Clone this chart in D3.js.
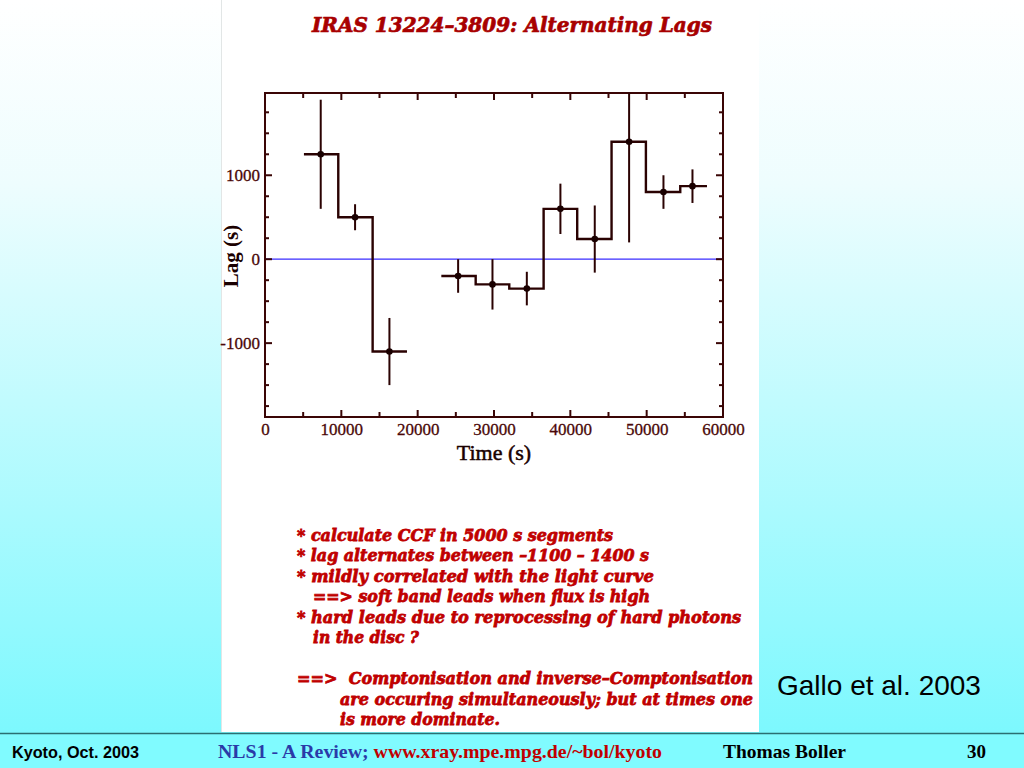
<!DOCTYPE html>
<html>
<head>
<meta charset="utf-8">
<script src="https://cdn.jsdelivr.net/npm/d3@7"></script>
<style>
  html, body { margin: 0; padding: 0; overflow: hidden; }
  svg { display: block; }
</style>
</head>
<body>
<svg id="chart" width="1024" height="768"></svg>
<script>
// ---------------- data ----------------
const binStart = [5100, 9600, 14100, 23100, 27600, 32000, 36500, 40900, 45400, 49900, 54400];
const binEnd   = [9600, 14100, 18600, 27600, 32000, 36500, 40900, 45400, 49900, 54400, 57900];
const timeMid  = [7300, 11800, 16300, 25300, 29800, 34300, 38700, 43200, 47700, 52200, 56000];
const lagValue = [1250, 500, -1100, -200, -300, -350, 600, 240, 1400, 800, 870];
const lagError = [650, 155, 400, 200, 300, 200, 300, 400, 1200, 200, 200];
const xTicks = [0, 10000, 20000, 30000, 40000, 50000, 60000];
const yTicks = [-1000, 0, 1000];

const titleText = "IRAS 13224\u20133809: Alternating Lags";
const noteLines = [
  "* calculate CCF in 5000 s segments",
  "* lag alternates between \u20131100 \u2013 1400 s",
  "* mildly correlated with the light curve",
  "==> soft band leads when flux is high",
  "* hard leads due to reprocessing of hard photons",
  "in the disc ?",
  "==>  Comptonisation and inverse\u2013Comptonisation",
  "are occuring simultaneously; but at times one",
  "is more dominate."
];

// ---------------- layout ----------------
const svg = d3.select("#chart");
const W = 1024, H = 768;

const defs = svg.append("defs");
const grad = defs.append("linearGradient").attr("id", "bg").attr("x1", 0).attr("y1", 0).attr("x2", 0).attr("y2", 1);
grad.append("stop").attr("offset", "0%").attr("stop-color", "#ffffff");
grad.append("stop").attr("offset", "25%").attr("stop-color", "#eefdfe");
grad.append("stop").attr("offset", "100%").attr("stop-color", "#7cf8fe");

svg.append("rect").attr("width", W).attr("height", 734).attr("fill", "url(#bg)");
svg.append("rect").attr("y", 734).attr("width", W).attr("height", H - 734).attr("fill", "#80fbff");
svg.append("line").attr("x1", 0).attr("x2", W).attr("y1", 733.5).attr("y2", 733.5)
  .attr("stroke", "#2b6f72").attr("stroke-width", 1.5);

// white panel
svg.append("rect").attr("x", 221).attr("y", 0).attr("width", 538).attr("height", 732).attr("fill", "#ffffff");
svg.append("line").attr("x1", 221.5).attr("x2", 221.5).attr("y1", 0).attr("y2", 732)
  .attr("stroke", "#e2e6e6").attr("stroke-width", 1);

// title
svg.append("text").attr("x", 312).attr("y", 32)
  .attr("textLength", 400).attr("lengthAdjust", "spacingAndGlyphs")
  .style("font-family", "'DejaVu Serif', serif").style("font-weight", "bold").style("font-style", "italic")
  .style("font-size", "21px").attr("fill", "#a80000")
  .attr("stroke", "#a80000").attr("stroke-width", 0.7).text(titleText);

// ---------------- plot ----------------
const x = d3.scaleLinear().domain([0, 60000]).range([265, 723]);
const y = d3.scaleLinear().domain([-1880, 1980]).range([417, 93]);
const frameColor = "#3a0505";
const labelColor = "#4a0808";

const g = svg.append("g");

// zero line
g.append("line").attr("x1", x(0)).attr("x2", x(60000)).attr("y1", y(0)).attr("y2", y(0))
  .attr("stroke", "#3a2cff").attr("stroke-width", 1.2);

// ticks (inward) on all sides
const xMajor = d3.range(0, 60001, 10000);
const xMinor = d3.range(5000, 60000, 10000);
const yMajor = d3.range(-1000, 1001, 1000);
const yMinor = d3.range(-1750, 1751, 250).filter(v => v % 1000 !== 0);
const tk = g.append("g").attr("stroke", frameColor).attr("stroke-width", 2);
function xTick(v, len) {
  tk.append("line").attr("x1", x(v)).attr("x2", x(v)).attr("y1", 417).attr("y2", 417 - len);
  tk.append("line").attr("x1", x(v)).attr("x2", x(v)).attr("y1", 93).attr("y2", 93 + len);
}
function yTick(v, len) {
  tk.append("line").attr("x1", 265).attr("x2", 265 + len).attr("y1", y(v)).attr("y2", y(v));
  tk.append("line").attr("x1", 723).attr("x2", 723 - len).attr("y1", y(v)).attr("y2", y(v));
}
xMajor.forEach(v => xTick(v, 7));
xMinor.forEach(v => xTick(v, 5));
yMajor.forEach(v => yTick(v, 7));
yMinor.forEach(v => yTick(v, 4));

// frame
g.append("rect").attr("x", 265).attr("y", 93).attr("width", 458).attr("height", 324)
  .attr("fill", "none").attr("stroke", frameColor).attr("stroke-width", 2);

// tick labels via axes (tick lines hidden)
const xAxis = g.append("g").attr("transform", "translate(0,417)")
  .call(d3.axisBottom(x).tickValues(xTicks).tickSize(0).tickPadding(6).tickFormat(d3.format("d")));
const yAxis = g.append("g").attr("transform", "translate(265,0)")
  .call(d3.axisLeft(y).tickValues(yTicks).tickSize(0).tickPadding(5).tickFormat(d => d < 0 ? "-" + Math.abs(d) : d));
[xAxis, yAxis].forEach(a => {
  a.select(".domain").remove();
  a.selectAll("text").attr("fill", labelColor)
    .attr("stroke", labelColor).attr("stroke-width", 0.3)
    .style("font-family", "'Liberation Serif', 'Times New Roman', serif").style("font-size", "17px");
});

// axis titles
g.append("text").attr("x", 494).attr("y", 460).attr("text-anchor", "middle")
  .style("font-family", "'Liberation Serif', serif").style("font-size", "22px")
  .attr("fill", "#1a0000").attr("stroke", "#1a0000").attr("stroke-width", 0.5).text("Time (s)");
g.append("text").attr("transform", "translate(238,256) rotate(-90)").attr("text-anchor", "middle")
  .style("font-family", "'Liberation Serif', serif").style("font-weight", "bold").style("font-size", "21px")
  .attr("fill", "#1a0000").text("Lag (s)");

// step histogram
const stepPath = d3.path();
for (let i = 0; i < lagValue.length; i++) {
  const contiguous = i > 0 && Math.abs(binStart[i] - binEnd[i - 1]) < 1;
  if (contiguous) stepPath.lineTo(x(binStart[i]), y(lagValue[i]));
  else stepPath.moveTo(x(binStart[i]), y(lagValue[i]));
  stepPath.lineTo(x(binEnd[i]), y(lagValue[i]));
}
g.append("path").attr("d", stepPath.toString()).attr("fill", "none")
  .attr("stroke", "#2a0202").attr("stroke-width", 2.4).attr("stroke-linejoin", "miter");

// error bars
const yMax = y.domain()[1];
g.append("g").selectAll("line").data(lagValue).join("line")
  .attr("x1", (d, i) => x(timeMid[i])).attr("x2", (d, i) => x(timeMid[i]))
  .attr("y1", (d, i) => y(Math.min(d + lagError[i], yMax)))
  .attr("y2", (d, i) => y(d - lagError[i]))
  .attr("stroke", "#2a0202").attr("stroke-width", 2);

// points
g.append("g").selectAll("circle").data(lagValue).join("circle")
  .attr("cx", (d, i) => x(timeMid[i])).attr("cy", d => y(d)).attr("r", 3.3)
  .attr("fill", "#1a0000");

// ---------------- notes ----------------
const noteX    = [297, 297, 297, 313, 297, 313, 297, 340, 340];
const noteY    = [541, 561, 582, 602, 623, 643, 684, 705, 725];
const noteLen  = [316, 352, 357, 337, 444, 106, 456, 413, 160];
svg.append("g").selectAll("text").data(noteLines).join("text")
  .attr("x", (d, i) => noteX[i]).attr("y", (d, i) => noteY[i])
  .attr("textLength", (d, i) => noteLen[i]).attr("lengthAdjust", "spacingAndGlyphs")
  .style("font-family", "'DejaVu Serif', serif").style("font-weight", "bold").style("font-style", "italic")
  .style("font-size", "17px").attr("fill", "#c00000")
  .attr("stroke", "#c00000").attr("stroke-width", 0.8)
  .style("white-space", "pre").attr("xml:space", "preserve")
  .text(d => d);

// reference
svg.append("text").attr("x", 777).attr("y", 695)
  .style("font-family", "'Liberation Sans', Arial, sans-serif").style("font-size", "28px")
  .attr("fill", "#000").text("Gallo et al. 2003");

// ---------------- footer ----------------
svg.append("text").attr("x", 12).attr("y", 758)
  .attr("textLength", 127).attr("lengthAdjust", "spacingAndGlyphs")
  .style("font-family", "'Liberation Sans Narrow', 'Liberation Sans', Arial, sans-serif").style("font-weight", "bold")
  .style("font-size", "16px").attr("fill", "#000").text("Kyoto, Oct. 2003");
const mid = svg.append("text").attr("x", 218).attr("y", 758)
  .attr("textLength", 444).attr("lengthAdjust", "spacingAndGlyphs")
  .style("font-family", "'Liberation Serif', serif").style("font-weight", "bold").style("font-size", "19px");
mid.append("tspan").attr("fill", "#2a3aa8").text("NLS1 - A Review; ");
mid.append("tspan").attr("fill", "#c00000").text("www.xray.mpe.mpg.de/~bol/kyoto");
svg.append("text").attr("x", 723).attr("y", 758)
  .attr("textLength", 123).attr("lengthAdjust", "spacingAndGlyphs")
  .style("font-family", "'Liberation Serif', serif").style("font-weight", "bold").style("font-size", "19px")
  .attr("fill", "#000").text("Thomas Boller");
svg.append("text").attr("x", 967).attr("y", 758)
  .style("font-family", "'Liberation Serif', serif").style("font-weight", "bold").style("font-size", "19px")
  .attr("fill", "#000").text("30");
</script>
</body>
</html>
